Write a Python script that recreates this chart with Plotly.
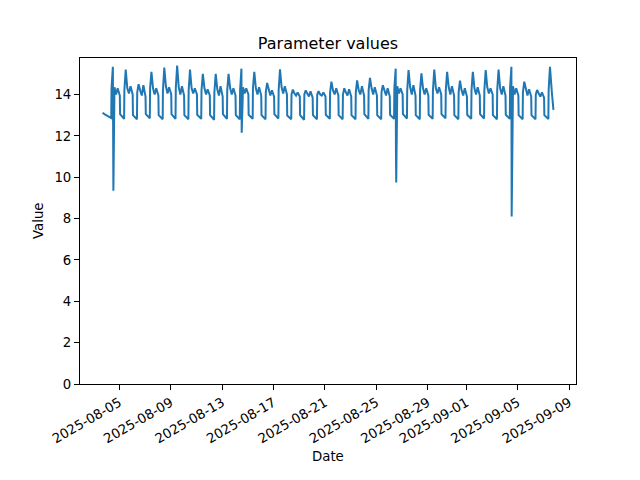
import pandas as pd
import plotly.graph_objects as go

# ---- data ----
day_dates = pd.date_range("2025-08-04", "2025-09-07", freq="D")

peak_vals = [15.34, 15.2, 14.5, 15.1, 15.3, 15.4, 15.2, 15.0, 15.0, 15.0,
             15.25, 15.1, 14.56, 15.22, 14.24, 14.2, 14.16, 14.62, 14.3, 14.68,
             14.8, 14.45, 15.25, 15.18, 15.02, 15.21, 15.1, 14.67, 15.1, 15.18,
             15.21, 15.34, 14.62, 14.22, 15.34]
rise_vals = [14.3, 14.2, 14.1, 14.3, 14.2, 14.3, 14.2, 14.2, 14.1, 14.2,
             14.2, 14.3, 14.1, 14.2, 14.0, 14.0, 14.0, 14.1, 14.0, 14.1,
             14.2, 14.1, 14.3, 14.2, 14.2, 14.2, 14.2, 14.1, 14.2, 14.2,
             14.2, 14.3, 14.1, 14.0, 14.2]
post_vals = [14.35, 14.3, 14.2, 14.3, 14.4, 14.35, 14.3, 14.3, 14.25, 14.3,
             14.35, 14.3, 14.2, 14.35, 14.05, 14.05, 14.0, 14.2, 14.1, 14.2,
             14.3, 14.2, 14.4, 14.35, 14.3, 14.3, 14.35, 14.2, 14.3, 14.35,
             14.3, 14.4, 14.2, 14.05, 14.3]
plateau_vals = [14.0, 14.05, 13.95, 14.0, 14.05, 14.0, 14.05, 14.0, 13.95, 14.0,
                14.05, 14.0, 13.95, 14.05, 13.95, 13.9, 13.95, 14.0, 13.95, 14.0,
                14.0, 13.95, 14.05, 14.0, 14.0, 14.05, 14.0, 13.95, 14.0, 14.05,
                14.0, 14.0, 13.95, 13.9, 14.0]
bump_vals = [14.3, 14.4, 14.45, 14.3, 14.35, 14.4, 14.3, 14.25, 14.4, 14.3,
             14.3, 14.35, 14.2, 14.4, 14.1, 14.15, 14.1, 14.3, 14.25, 14.4,
             14.35, 14.3, 14.3, 14.45, 14.3, 14.35, 14.4, 14.3, 14.35, 14.3,
             14.4, 14.3, 14.25, 14.1, 14.2]
late_vals = [13.95, 14.0, 13.9, 13.95, 14.0, 13.95, 14.0, 13.95, 13.9, 13.95,
             14.0, 13.95, 13.9, 14.0, 13.9, 13.85, 13.9, 13.95, 13.9, 13.95,
             13.95, 13.9, 14.0, 13.95, 13.95, 14.0, 13.95, 13.9, 13.95, 14.0,
             13.95, 13.95, 13.9, 13.85, 13.95]
eve_low = [13.02, 13.05, 13.0, 13.05, 13.0, 13.05, 13.0, 13.02, 13.0, 13.05,
           13.0, 13.02, 13.0, 13.05, 12.98, 13.0, 13.0, 13.02, 13.0, 13.0,
           13.05, 13.0, 13.02, 13.05, 13.0, 13.02, 13.05, 13.0, 13.02, 13.05,
           13.0, 13.02, 13.0, 13.0, 13.0]
morn_low = [12.86, 12.82, 12.8, 12.85, 12.8, 12.82, 12.8, 12.82, 12.78, 12.82,
            12.8, 12.82, 12.8, 12.84, 12.8, 12.78, 12.8, 12.82, 12.8, 12.8,
            12.82, 12.8, 12.82, 12.84, 12.8, 12.82, 12.85, 12.8, 12.82, 12.84,
            12.8, 12.82, 12.8, 12.8, 12.82]

start_times = ["2025-08-03 16:45", "2025-08-03 21:00"]
start_vals = [13.12, 13.04]
end_times = ["2025-09-07 15:30", "2025-09-07 18:30"]
end_vals = [14.1, 13.26]

dip_times = ["2025-08-04 12:30", "2025-08-04 13:00", "2025-08-14 12:30",
             "2025-08-26 12:30", "2025-08-26 13:00", "2025-09-04 12:30"]
dip_vals = [9.9, 9.35, 12.15, 11.2, 9.75, 8.1]

tick_dates = ["2025-08-05", "2025-08-09", "2025-08-13", "2025-08-17", "2025-08-21",
              "2025-08-25", "2025-08-29", "2025-09-01", "2025-09-05", "2025-09-09"]
y_ticks = [0, 2, 4, 6, 8, 10, 12, 14]

# ---- assemble the time series ----
times = list(pd.to_datetime(start_times))
vals = list(start_vals)
n = len(day_dates)
for k, d in enumerate(day_dates):
    if k > 0:
        times.append(d + pd.Timedelta(hours=1, minutes=30)); vals.append(eve_low[k])
    times.append(d + pd.Timedelta(hours=9)); vals.append(morn_low[k])
    times.append(d + pd.Timedelta(hours=9, minutes=30)); vals.append(rise_vals[k])
    times.append(d + pd.Timedelta(hours=12)); vals.append(peak_vals[k])
    if k < n - 1:
        times.append(d + pd.Timedelta(hours=15)); vals.append(post_vals[k])
        times.append(d + pd.Timedelta(hours=18)); vals.append(plateau_vals[k])
        times.append(d + pd.Timedelta(hours=21)); vals.append(bump_vals[k])
        times.append(d + pd.Timedelta(hours=25)); vals.append(late_vals[k])
times += list(pd.to_datetime(end_times)); vals += end_vals
times += list(pd.to_datetime(dip_times)); vals += dip_vals

df = pd.DataFrame({"t": times, "v": vals}).sort_values("t")

tmin, tmax = df["t"].min(), df["t"].max()
span = tmax - tmin
xr = [tmin - 0.05 * span, tmax + 0.05 * span]
vmin, vmax = df["v"].min(), df["v"].max()
ytop = vmax + 0.05 * (vmax - vmin)

fig = go.Figure(go.Scatter(x=df["t"], y=df["v"], mode="lines",
                           line=dict(color="#1f77b4", width=2)))

# the page body has an 8px default margin, so the figure is shifted by -8px
font = "DejaVu Sans, sans-serif"
fig.update_layout(
    width=640, height=480,
    margin=dict(l=72, r=72, t=50, b=104),
    paper_bgcolor="white", plot_bgcolor="white",
    showlegend=False,
    font=dict(family=font, size=13.3, color="black"),
    title=dict(text="Parameter values", x=0.5, xref="paper", xanchor="center",
               y=1 - 35 / 480, yref="container", yanchor="middle",
               font=dict(family=font, size=16, color="black")),
)
fig.update_xaxes(range=xr, tickvals=pd.to_datetime(tick_dates), ticktext=tick_dates,
                 tickangle=-30, ticks="outside", ticklen=5, tickwidth=1, tickcolor="black",
                 showline=True, linecolor="black", linewidth=1, mirror=True,
                 showgrid=False, zeroline=False,
                 tickfont=dict(family=font, size=13.3, color="black"))
fig.update_yaxes(range=[0, ytop], tickvals=y_ticks, ticks="outside", ticklen=5,
                 tickwidth=1, tickcolor="black",
                 showline=True, linecolor="black", linewidth=1, mirror=True,
                 showgrid=False, zeroline=False,
                 tickfont=dict(family=font, size=13.3, color="black"))
fig.add_annotation(text="Value", xref="paper", yref="paper", x=(38 - 80) / 496, y=0.5,
                   textangle=-90, showarrow=False, xanchor="center", yanchor="middle",
                   font=dict(family=font, size=13.3, color="black"))
fig.add_annotation(text="Date", xref="paper", yref="paper", x=0.5, y=(384 - 457) / 326.4,
                   showarrow=False, xanchor="center", yanchor="middle",
                   font=dict(family=font, size=13.3, color="black"))

fig.write_html("out.html")
